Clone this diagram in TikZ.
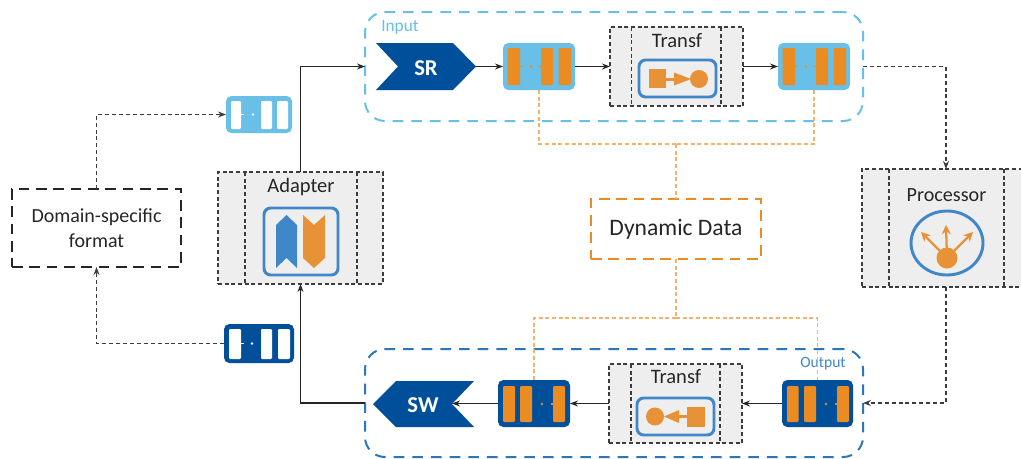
\documentclass[tikz,border=0pt]{standalone}
\usepackage{fontspec}
\setmainfont{Carlito}
\usetikzlibrary{arrows.meta,shapes.geometric}
\definecolor{lblue}{HTML}{68BFE8}
\definecolor{dblue}{HTML}{004F9A}
\definecolor{mblue}{HTML}{3F87C9}
\definecolor{ored}{HTML}{EB8C23}
\definecolor{oicon}{HTML}{E89237}
\definecolor{odash}{HTML}{F5B26F}
\definecolor{pgray}{HTML}{EEEEEE}
\definecolor{ddash}{HTML}{3C3C3C}
\definecolor{txt}{HTML}{262626}
\tikzset{
  x=0.75pt,y=-0.75pt,
  tip/.style={-{Stealth[length=6pt,width=4.5pt]}},
  flow/.style={draw=black!85,line width=0.95pt,tip},
  dflow/.style={draw=ddash,line width=0.9pt,dash pattern=on 3pt off 2.2pt,tip},
  oflow/.style={draw=odash,line width=0.95pt,dash pattern=on 3pt off 2pt},
  procbox/.style={draw=ddash,fill=pgray,line width=0.9pt,dash pattern=on 3pt off 2pt},
  procline/.style={draw=ddash,line width=0.9pt,dash pattern=on 3pt off 2pt},
  iconbox/.style={draw=mblue,line width=2.2pt,fill=pgray,rounded corners=5pt},
  inputbox/.style={draw=lblue,line width=1.5pt,dash pattern=on 8pt off 6pt,rounded corners=15pt},
  outputbox/.style={draw=mblue!70!dblue,line width=1.5pt,dash pattern=on 8pt off 6pt,rounded corners=15pt},
  blackbox/.style={draw=txt,line width=1.6pt,dash pattern=on 8pt off 5pt,fill=white,align=center,font=\fontsize{15pt}{18.6pt}\selectfont,text=txt},
  orangebox/.style={draw=ored,line width=1.6pt,dash pattern=on 8pt off 5pt,fill=white,font=\fontsize{17.7pt}{20pt}\selectfont,text=txt},
  lab/.style={font=\fontsize{15.4pt}{17pt}\selectfont,text=txt,inner sep=0pt},
  hidden/.style={inner sep=0pt,outer sep=0pt},
  qbody/.style={rounded corners=4pt},
  every node/.append style={inner sep=0pt,outer sep=0pt},
}
% \bx[style]{name}{x1}{y1}{x2}{y2}{text}
\newcommand{\bx}[7][]{%
  \pgfmathsetmacro{\bxw}{(#5-#3)*0.75}\pgfmathsetmacro{\bxh}{(#6-#4)*0.75}%
  \node[#1,minimum width=\bxw pt,minimum height=\bxh pt,anchor=north west] (#2) at (#3,#4) {#7};}
\newcommand{\qbar}[5]{\fill[#1,rounded corners=0.8pt] (#4,#2) rectangle (#5,#3);}
\newcommand{\qdot}[3]{\fill[#1] (#2,#3) circle[radius=1.3];}
\newcommand{\qtick}[4]{\draw[#1,line width=1.2pt] (#2,#4) -- (#3,#4);}
\begin{document}
\begin{tikzpicture}
\clip (0,0) rectangle (1021,458);
\fill[white] (0,0) rectangle (1021,458);

% grouping boxes
\bx[inputbox]{inbox}{365}{12}{863}{121}{}
\node[font=\fontsize{13pt}{14pt}\selectfont,text=lblue] (inlab) at (400,27) {Input};
\bx[outputbox]{outbox}{365}{349}{863}{457}{}
\node[font=\fontsize{11.7pt}{13pt}\selectfont,text=mblue] (outlab) at (823,364) {Output};

% SR / SW
\fill[dblue] (376,43) -- (453,43) -- (476,66.5) -- (453,90) -- (376,90) -- (398,66.5) -- cycle;
\bx[hidden]{sr}{376}{43}{476}{90}{}
\node[text=white,font=\bfseries\fontsize{17pt}{18pt}\selectfont] (srt) at (426,68) {SR};
\fill[dblue] (373,404) -- (396,381) -- (474,381) -- (452,404) -- (474,427) -- (396,427) -- cycle;
\bx[hidden]{sw}{373}{381}{474}{427}{}
\coordinate (swn) at (452,403.5);
\node[text=white,font=\bfseries\fontsize{17pt}{18pt}\selectfont] (swt) at (423,405) {SW};

% queues
\bx[fill=lblue,qbody]{qa}{503}{43}{575}{90}{}
\qbar{ored}{48}{85}{507.5}{520}\qbar{ored}{48}{85}{541}{553}\qbar{ored}{48}{85}{558.5}{571}
\qtick{ored}{520}{523}{66.5}\qdot{ored}{531}{66.5}\qtick{ored}{538}{541}{66.5}
\bx[fill=lblue,qbody]{qb}{778}{43}{850}{90}{}
\qbar{ored}{48}{85}{782.5}{795}\qbar{ored}{48}{85}{816}{828}\qbar{ored}{48}{85}{833.5}{846}
\qtick{ored}{795}{798}{66.5}\qdot{ored}{806}{66.5}\qtick{ored}{813}{816}{66.5}
\bx[fill=dblue,qbody]{qc}{782}{380}{853}{427}{}
\qbar{ored}{386}{422}{787}{798.5}\qbar{ored}{386}{422}{804}{816}\qbar{ored}{386}{422}{837}{849}
\qdot{ored}{826}{404}\qtick{ored}{835}{837}{404}
\bx[fill=dblue,qbody]{qd}{498}{380}{570}{427}{}
\qbar{ored}{386}{422}{503}{515}\qbar{ored}{386}{422}{520}{532}\qbar{ored}{386}{422}{553}{565}
\qdot{ored}{542}{404}\qtick{ored}{551}{553}{404}
\bx[fill=lblue,qbody]{qe}{226}{96}{292}{133}{}
\qbar{white}{101}{129}{231}{241}\qbar{white}{101}{129}{261}{272}\qbar{white}{101}{129}{277}{288}
\qtick{white}{241}{244}{114.5}\qdot{white}{253}{114.5}
\bx[fill=dblue,qbody]{qf}{224}{324}{294}{363}{}
\qbar{white}{329}{359}{229}{241}\qbar{white}{329}{359}{261}{272}\qbar{white}{329}{359}{278}{290}
\qtick{white}{241}{244}{343.5}\qdot{white}{252}{343.5}

% Transf upper
\bx[procbox]{ta}{610}{27}{743}{106}{}
\draw[procline] (631.5,27) -- (631.5,106) (721,27) -- (721,106);
\node[lab] (tal) at (677,41) {Transf};
\bx[iconbox]{tai}{639}{60}{716}{97}{}
\fill[oicon] (649,69) rectangle (666,88);
\fill[oicon] (699,79) circle[radius=9];
\fill[oicon] (666,77.5) rectangle (676,80.5);
\fill[oicon] (674,72.5) -- (691,79) -- (674,85.5) -- cycle;

% Transf lower
\bx[procbox]{tb}{609}{364}{742}{443}{}
\draw[procline] (631,364) -- (631,443) (720,364) -- (720,443);
\node[lab] (tbl) at (676,377) {Transf};
\bx[iconbox]{tbi}{637}{398}{714}{435}{}
\fill[oicon] (687,407) rectangle (705,427);
\fill[oicon] (655,416.5) circle[radius=9];
\fill[oicon] (677,415) rectangle (687,418);
\fill[oicon] (679,410) -- (664,416.5) -- (679,423) -- cycle;

% Adapter
\bx[procbox]{ad}{218}{172}{383}{284}{}
\draw[procline] (245,172) -- (245,284) (357,172) -- (357,284);
\node[lab] (adl) at (301,187) {Adapter};
\bx[iconbox]{adi}{264}{208}{338}{275}{}
\fill[mblue] (276,225) -- (286.5,215) -- (297,225) -- (297,268) -- (286.5,258) -- (276,268) -- cycle;
\fill[oicon] (303,215) -- (314,225) -- (325,215) -- (325,258) -- (314,268) -- (303,258) -- cycle;

% Processor
\bx[procbox]{pr}{862}{169}{1030}{287}{}
\draw[procline] (889,169) -- (889,287) (1004,169) -- (1004,287);
\node[lab,font=\fontsize{15.1pt}{17pt}\selectfont] (prl) at (946.5,195) {Processor};
\node[draw=mblue,line width=2.2pt,ellipse,minimum width=54pt,minimum height=48pt,fill=pgray] (pri) at (947,243) {};
\fill[oicon] (947,258) circle[radius=10.5];
\draw[oicon,line width=1.7pt,-{Stealth[length=7pt,width=7pt]}] (947,258) -- (946,225);
\draw[oicon,line width=1.7pt,-{Stealth[length=7pt,width=7pt]}] (947,258) -- (921,232);
\draw[oicon,line width=1.7pt,-{Stealth[length=7pt,width=7pt]}] (947,258) -- (973,232);

% text boxes
\bx[blackbox]{dom}{12}{189}{181}{267}{Domain-specific\\format}
\bx[orangebox]{dd}{591}{199}{761}{259}{Dynamic Data}

% junctions
\coordinate (jt) at (676,144);
\coordinate (jb) at (676,318);

% connectors
\draw[flow] (sr.east) -- (qa.west);
\draw[flow] (qa.east) -- (ta.west);
\draw[flow] (ta.east) -- (qb.west);
\draw[flow] (qc.west) -- (tb.east);
\draw[flow] (tb.west) -- (qd.east);
\draw[flow] (qd.west) -- (swn);
\draw[flow] (outbox.west) -| (ad.south);
\draw[flow] (ad.north) |- (inbox.west);
\draw[dflow] (inbox.east) -| (pr.north);
\draw[dflow] (pr.south) |- (outbox.east);
\draw[dflow] (dom.north) |- (qe.west);
\draw[dflow] (qf.west) -| (dom.south);
\draw[oflow] (qa.south) |- (jt);
\draw[oflow] (qb.south) |- (jt);
\draw[oflow] (jt) -- (dd.north);
\draw[oflow] (dd.south) -- (jb);
\draw[oflow] (jb) -| (qd.north);
\draw[oflow] (jb) -| (qc.north);
\end{tikzpicture}
\end{document}
